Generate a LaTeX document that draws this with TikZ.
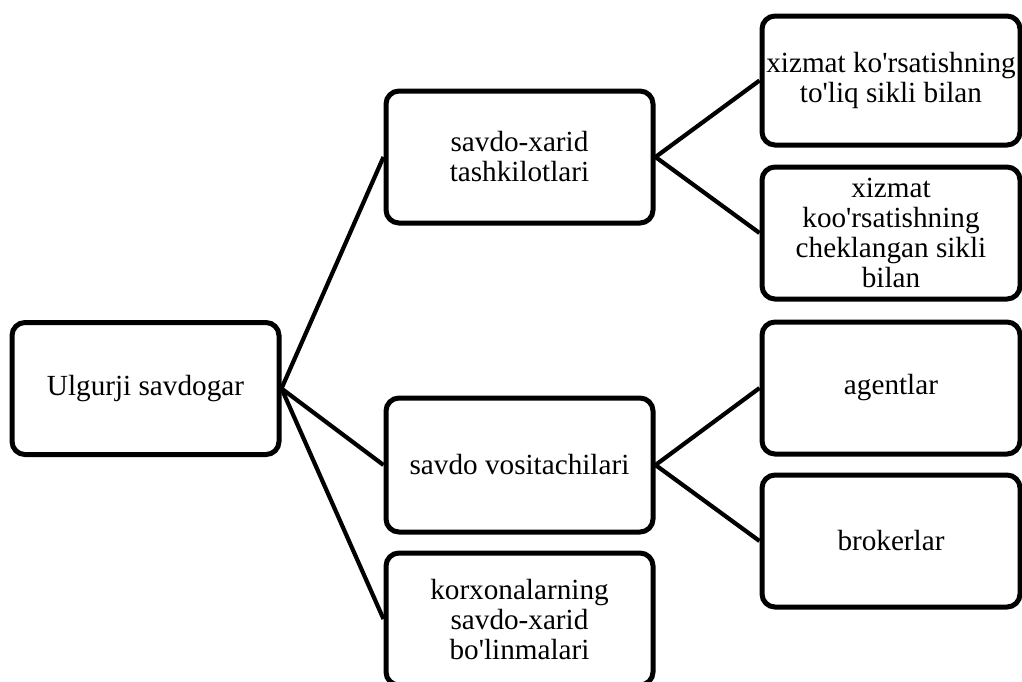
\documentclass[tikz,border=0pt]{standalone}
\usepackage{fontspec}
\setmainfont{Liberation Serif}[Ligatures=TeXOff]
\usetikzlibrary{positioning}

\begin{document}
\begin{tikzpicture}[x=0.5pt, y=-0.5pt,
        every node/.style={font=\fontsize{14.6}{15}\selectfont, align=center},
        box/.style={draw, line width=2.5pt, rounded corners=6.5pt, inner sep=2pt, minimum width=133.5pt, minimum height=66pt},
        rbox/.style={box, minimum width=129pt},
        link/.style={line width=2.1pt}, node distance=8pt]
    \useasboundingbox (0,0) rectangle (1022,681);
    % first level
    \node[box] (ulgurji) at (145.5,388.5) {Ulgurji savdogar};
    % second level
    \node[box] (xarid) at (519.5,157) {savdo-xarid\\tashkilotlari};
    \node[box, minimum height=67pt] (vosita) at (519.5,465) {savdo vositachilari};
    \node[box] (korxona) at (519.5,619) {korxonalarning\\savdo-xarid\\bo'linmalari};
    % third level
    \node[rbox, minimum height=64.5pt] (toliq) at (891,80.5) {xizmat ko'rsatishning\\to'liq sikli bilan};
    \node[rbox, below=8.5pt of toliq] (cheklangan) {xizmat\\koo'rsatishning\\cheklangan sikli\\bilan};
    \node[rbox] (agent) at (891,388) {agentlar};
    \node[rbox, below=of agent] (broker) {brokerlar};
    % connectors
    \draw[link] (ulgurji.east) -- (xarid.west);
    \draw[link] (ulgurji.east) -- (vosita.west);
    \draw[link] (ulgurji.east) -- (korxona.west);
    \draw[link] (xarid.east) -- (toliq.west);
    \draw[link] (xarid.east) -- (cheklangan.west);
    \draw[link] (vosita.east) -- (agent.west);
    \draw[link] (vosita.east) -- (broker.west);
\end{tikzpicture}
\end{document}
